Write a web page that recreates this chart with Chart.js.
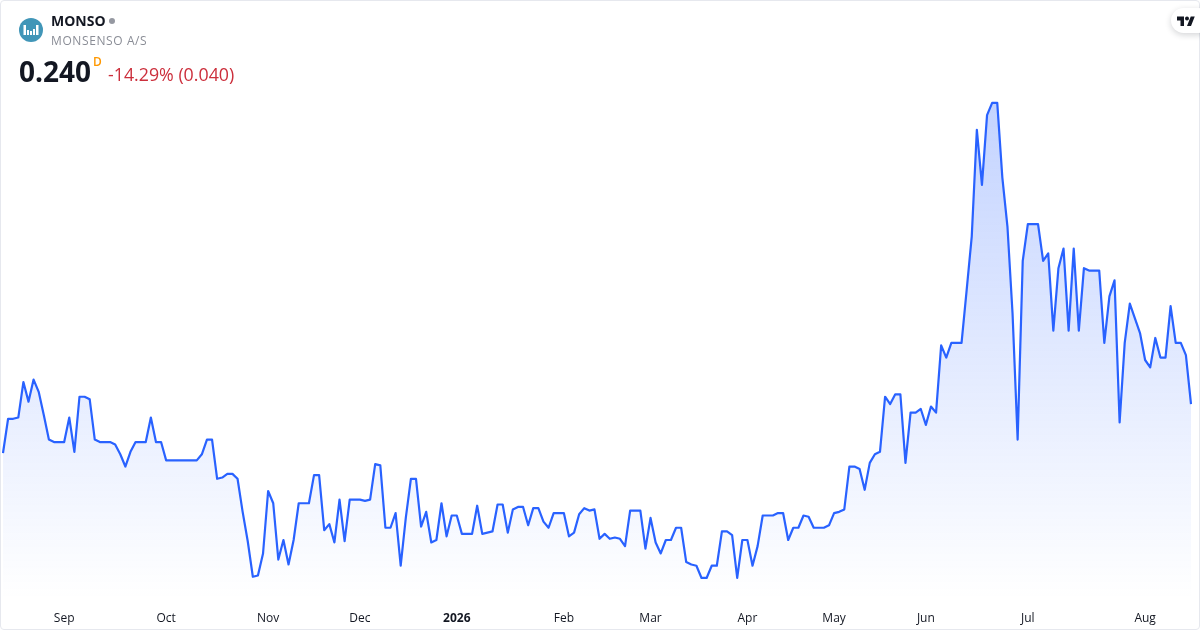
<!DOCTYPE html>
<html>
<head>
<meta charset="utf-8">
<title>MONSO</title>
<script src="https://cdn.jsdelivr.net/npm/chart.js@4"></script>
<style>
    html, body { margin: 0; padding: 0; background: #fff; }
    body { width: 1200px; height: 630px; overflow: hidden; font-family: "Open Sans", sans-serif; }
    #wrap { position: relative; width: 1200px; height: 630px; }
    #wrap canvas { position: absolute; left: 0; top: 0; }
    #frame { position: absolute; left: 0; top: 0; width: 1198px; height: 628px; border: 1px solid #e6e8ee; border-radius: 4px; pointer-events: none; }
    .abs { position: absolute; white-space: nowrap; }
    #logo { left: 19px; top: 18px; }
    #symbol { left: 51px; top: 11px; font-size: 14px; line-height: 20px; font-weight: 700; color: #131722; }
    #dot { left: 109px; top: 18px; width: 6px; height: 6px; border-radius: 50%; background: #9598a1; }
    #company { left: 51px; top: 32px; font-size: 12px; line-height: 18px; color: #8a8d96; letter-spacing: 0.6px; }
    #price { left: 19px; top: 52px; font-size: 28px; line-height: 38px; font-weight: 700; color: #131722; }
    #unit { left: 93px; top: 54px; font-size: 12px; line-height: 16px; font-weight: 600; color: #ff9800; }
    #change { left: 108px; top: 61px; font-size: 17.8px; line-height: 26px; color: #cc2f3c; }
    #badge { left: 1171px; top: 8px; width: 40px; height: 25px; border-radius: 13px; background: #fff; box-shadow: 0 2px 6px rgba(19, 23, 34, 0.18); }
    #badge svg { position: absolute; left: 6px; top: 7px; }
</style>
</head>
<body>
<div id="wrap">
    <canvas id="chartCanvas" width="1200" height="630"></canvas>
    <div id="frame"></div>
    <svg id="logo" class="abs" width="24" height="24" viewBox="0 0 24 24">
        <circle cx="12" cy="12" r="12" fill="#4196b8"></circle>
        <g fill="#fff">
            <rect x="4.5" y="7" width="2.5" height="10"></rect>
            <rect x="8" y="12" width="2" height="5"></rect>
            <rect x="11" y="13" width="2" height="4"></rect>
            <rect x="14" y="11" width="2" height="6"></rect>
            <rect x="17" y="7" width="2.5" height="10"></rect>
        </g>
    </svg>
    <div id="symbol" class="abs">MONSO</div>
    <div id="dot" class="abs"></div>
    <div id="company" class="abs">MONSENSO A/S</div>
    <div id="price" class="abs">0.240</div>
    <div id="unit" class="abs">D</div>
    <div id="change" class="abs">-14.29% (0.040)</div>
    <div id="badge" class="abs">
        <svg width="18" height="11" viewBox="0 0 36 22">
            <path fill="#131722" d="M14 22H7V11H0V3h14v19zM28 22h-8l7.5-19h8L28 22z"></path>
            <circle fill="#131722" cx="20" cy="7" r="4"></circle>
        </svg>
    </div>
</div>

<script>
// Daily closes, oldest first
const closes = [
    0.200, 0.228, 0.228, 0.229, 0.258, 0.242, 0.260, 0.250, 0.231, 0.211,
    0.209, 0.209, 0.209, 0.229, 0.201, 0.246, 0.246, 0.244, 0.211, 0.209,
    0.209, 0.209, 0.207, 0.199, 0.189, 0.201, 0.209, 0.209, 0.209, 0.229,
    0.209, 0.209, 0.194, 0.194, 0.194, 0.194, 0.194, 0.194, 0.194, 0.199,
    0.211, 0.211, 0.179, 0.180, 0.183, 0.183, 0.179, 0.152, 0.128, 0.099,
    0.100, 0.118, 0.169, 0.159, 0.113, 0.129, 0.109, 0.129, 0.159, 0.159,
    0.159, 0.182, 0.182, 0.137, 0.142, 0.127, 0.162, 0.128, 0.162, 0.162,
    0.162, 0.161, 0.162, 0.191, 0.190, 0.139, 0.139, 0.151, 0.108, 0.147,
    0.179, 0.179, 0.140, 0.152, 0.127, 0.129, 0.159, 0.132, 0.149, 0.149,
    0.134, 0.134, 0.134, 0.157, 0.134, 0.135, 0.136, 0.158, 0.158, 0.135,
    0.154, 0.156, 0.156, 0.141, 0.155, 0.155, 0.144, 0.139, 0.151, 0.151,
    0.151, 0.132, 0.135, 0.150, 0.155, 0.153, 0.154, 0.130, 0.134, 0.130,
    0.131, 0.130, 0.124, 0.153, 0.153, 0.153, 0.122, 0.147, 0.127, 0.118,
    0.129, 0.129, 0.139, 0.139, 0.111, 0.109, 0.108, 0.098, 0.098, 0.108,
    0.108, 0.136, 0.136, 0.133, 0.098, 0.129, 0.129, 0.108, 0.124, 0.149,
    0.149, 0.149, 0.151, 0.151, 0.129, 0.139, 0.139, 0.149, 0.148, 0.139,
    0.139, 0.139, 0.141, 0.151, 0.152, 0.154, 0.189, 0.189, 0.187, 0.170,
    0.192, 0.199, 0.201, 0.246, 0.240, 0.248, 0.248, 0.192, 0.233, 0.233,
    0.236, 0.223, 0.238, 0.233, 0.288, 0.278, 0.290, 0.290, 0.290, 0.333,
    0.377, 0.464, 0.419, 0.476, 0.486, 0.486, 0.425, 0.385, 0.314, 0.211,
    0.357, 0.387, 0.387, 0.387, 0.357, 0.363, 0.300, 0.351, 0.367, 0.300,
    0.367, 0.300, 0.351, 0.349, 0.349, 0.349, 0.290, 0.328, 0.341, 0.225,
    0.290, 0.322, 0.310, 0.298, 0.276, 0.270, 0.294, 0.278, 0.278, 0.320,
    0.290, 0.290, 0.280, 0.240
];

// Position in closes of the first trading day of each month, and its label
const tickDays = [12, 32, 52, 70, 89, 110, 127, 146, 163, 181, 201, 224];
const tickLabels = ["Sep", "Oct", "Nov", "Dec", "2026", "Feb", "Mar", "Apr", "May", "Jun", "Jul", "Aug"];

const priceMin = 0.08;
const priceMax = 0.57;

const ctx = document.getElementById("chartCanvas").getContext("2d");

new Chart(ctx, {
    type: "line",
    data: {
        labels: closes.map((c, i) => i),
        datasets: [
            {
                data: closes,
                borderColor: "#2962ff",
                borderWidth: 2.2,
                borderJoinStyle: "round",
                pointRadius: 0,
                tension: 0,
                fill: "start",
                backgroundColor: (context) => {
                    const area = context.chart.chartArea;
                    if (!area) {
                        return "rgba(41, 98, 255, 0.28)";
                    }
                    const gradient = context.chart.ctx.createLinearGradient(0, 102, 0, area.bottom);
                    gradient.addColorStop(0, "rgba(41, 98, 255, 0.28)");
                    gradient.addColorStop(1, "rgba(41, 98, 255, 0)");
                    return gradient;
                }
            }
        ]
    },
    options: {
        responsive: false,
        animation: false,
        layout: { autoPadding: false, padding: { left: 1, right: 9, top: 0, bottom: 0 } },
        plugins: { legend: { display: false }, tooltip: { enabled: false } },
        scales: {
            x: {
                type: "category",
                offset: false,
                grid: { display: false },
                border: { display: false },
                afterFit: (scale) => { scale.height = 30; },
                ticks: {
                    autoSkip: false,
                    maxRotation: 0,
                    minRotation: 0,
                    padding: 3,
                    color: "#131722",
                    font: (c) => ({
                        family: "'Open Sans', sans-serif",
                        size: 12,
                        weight: c.tick && c.tick.label === "2026" ? "700" : "400"
                    }),
                    callback: (value, index) => {
                        const at = tickDays.indexOf(index);
                        return at >= 0 ? tickLabels[at] : "";
                    }
                }
            },
            y: {
                display: false,
                min: priceMin,
                max: priceMax
            }
        }
    }
});
</script>
</body>
</html>
